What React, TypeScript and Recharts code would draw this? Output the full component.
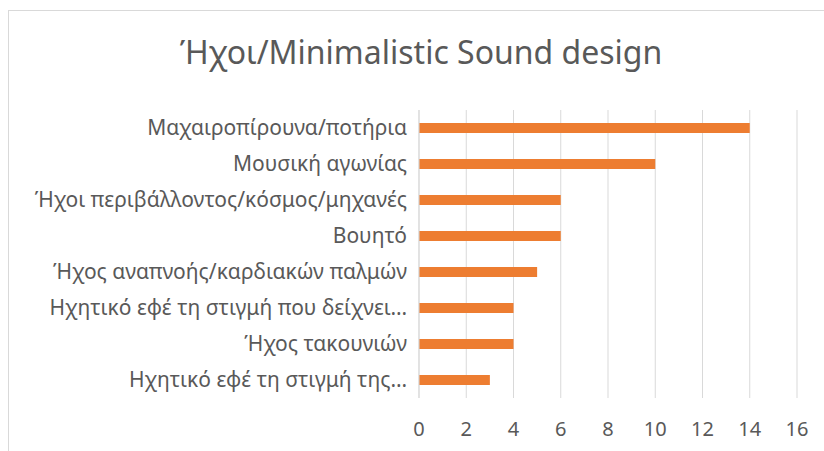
import { BarChart, Bar, XAxis, YAxis, CartesianGrid } from "recharts";

const categories = [
  "Μαχαιροπίρουνα/ποτήρια",
  "Μουσική αγωνίας",
  "Ήχοι περιβάλλοντος/κόσμος/μηχανές",
  "Βουητό",
  "Ήχος αναπνοής/καρδιακών παλμών",
  "Ηχητικό εφέ τη στιγμή που δείχνει…",
  "Ήχος τακουνιών",
  "Ηχητικό εφέ τη στιγμή της…",
];
const counts = [14, 10, 6, 6, 5, 4, 4, 3];
const xTicks = [0, 2, 4, 6, 8, 10, 12, 14, 16];

const data = categories.map((name, i) => ({ name, value: counts[i] }));

const FONT = "'Noto Sans', 'DejaVu Sans', sans-serif";
const TEXT = "#595959";

export default function App() {
  return (
    <div
      style={{
        position: "fixed",
        left: 0,
        top: 0,
        width: 824,
        height: 451,
        background: "#fff",
        overflow: "hidden",
        fontFamily: FONT,
      }}
    >
      {/* chart frame, runs off the right and bottom edges */}
      <div
        style={{
          position: "absolute",
          left: 8,
          top: 10,
          width: 840,
          height: 460,
          border: "1px solid #d9d9d9",
        }}
      />
      <div
        style={{
          position: "absolute",
          left: 0,
          top: 32,
          width: 842,
          textAlign: "center",
          fontSize: 32,
          color: TEXT,
          lineHeight: "40px",
        }}
      >
        Ήχοι/Minimalistic Sound design
      </div>
      <div style={{ position: "absolute", left: 0, top: 0 }}>
        <BarChart
          width={824}
          height={451}
          data={data}
          layout="vertical"
          margin={{ top: 110, right: 27, left: 0, bottom: 0 }}
          barCategoryGap="64%"
        >
          <CartesianGrid stroke="#d9d9d9" horizontal={false} vertical={true} />
          <XAxis
            type="number"
            domain={[0, 16]}
            ticks={xTicks}
            interval={0}
            axisLine={false}
            tickLine={false}
            tickSize={0}
            tickMargin={24}
            height={53}
            tick={{ fontSize: 20, fill: TEXT, fontFamily: FONT }}
          />
          <YAxis
            type="category"
            dataKey="name"
            width={419}
            interval={0}
            axisLine={{ stroke: "#d9d9d9" }}
            tickLine={false}
            tickSize={0}
            tickMargin={12}
            tick={{ fontSize: 21, fill: TEXT, fontFamily: FONT }}
          />
          <Bar dataKey="value" fill="#ED7D31" isAnimationActive={false} />
        </BarChart>
      </div>
    </div>
  );
}
